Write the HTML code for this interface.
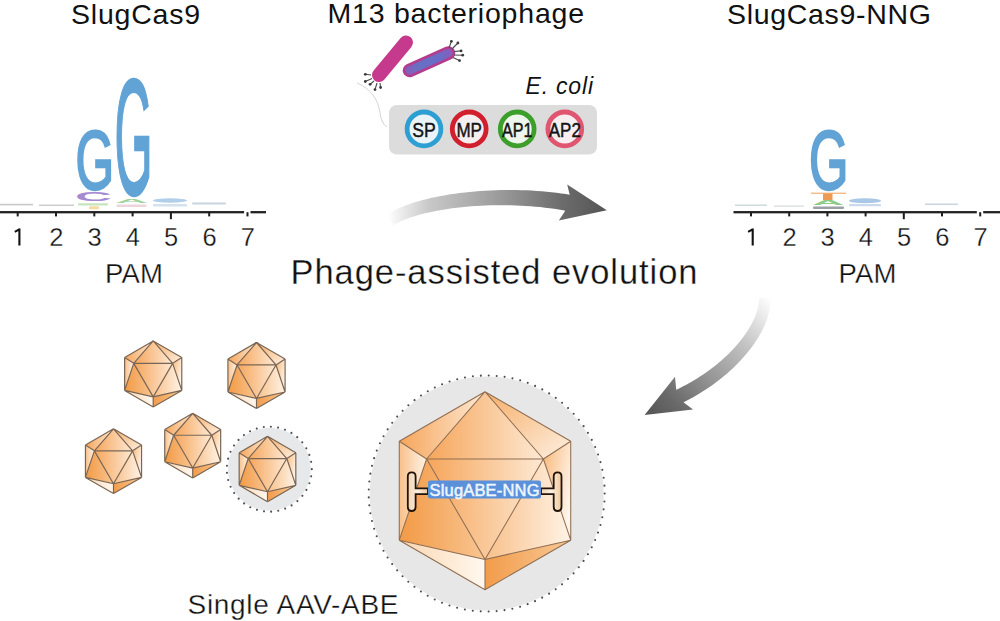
<!DOCTYPE html>
<html><head><meta charset="utf-8">
<style>
html,body{margin:0;padding:0;background:#fff;}
body{width:1000px;height:621px;overflow:hidden;}
svg{display:block;font-family:"Liberation Sans", sans-serif;}
</style></head><body>
<svg width="1000" height="621" viewBox="0 0 1000 621">
<defs>
<linearGradient id="cgA" gradientUnits="objectBoundingBox" x1="0" y1="0" x2="1" y2="0"><stop offset="0" stop-color="#f6a55a"/><stop offset="1" stop-color="#fde9d4"/></linearGradient>
<linearGradient id="cgL" gradientUnits="objectBoundingBox" x1="0" y1="0" x2="1" y2="0"><stop offset="0" stop-color="#f8c08a"/><stop offset="1" stop-color="#fff3e6"/></linearGradient>
<linearGradient id="cgTR" gradientUnits="objectBoundingBox" x1="0" y1="0" x2="1" y2="1"><stop offset="0" stop-color="#f7ae68"/><stop offset="1" stop-color="#fdf0e2"/></linearGradient>
<linearGradient id="cgR" gradientUnits="objectBoundingBox" x1="0" y1="0" x2="1" y2="0.6"><stop offset="0" stop-color="#f8b878"/><stop offset="1" stop-color="#fff5ec"/></linearGradient>
<linearGradient id="cgD" gradientUnits="objectBoundingBox" x1="0" y1="0" x2="1" y2="0"><stop offset="0" stop-color="#f39a45"/><stop offset="1" stop-color="#f8c592"/></linearGradient>
<linearGradient id="cgD2" gradientUnits="objectBoundingBox" x1="0" y1="0" x2="1" y2="0"><stop offset="0" stop-color="#f29c4a"/><stop offset="1" stop-color="#f8c896"/></linearGradient>
<linearGradient id="cgW" gradientUnits="objectBoundingBox" x1="0" y1="0" x2="1" y2="0"><stop offset="0" stop-color="#fbd6b0"/><stop offset="1" stop-color="#fff8f0"/></linearGradient>
<linearGradient id="arr1" gradientUnits="userSpaceOnUse" x1="388" y1="0" x2="605" y2="0"><stop offset="0" stop-color="#ffffff"/><stop offset="0.08" stop-color="#e6e6e6"/><stop offset="0.19" stop-color="#c8c8c8"/><stop offset="0.52" stop-color="#9a9a9a"/><stop offset="0.8" stop-color="#6c6c6c"/><stop offset="1" stop-color="#555555"/></linearGradient>
<linearGradient id="arr2" gradientUnits="userSpaceOnUse" x1="768" y1="296" x2="650" y2="412"><stop offset="0" stop-color="#ffffff"/><stop offset="0.1" stop-color="#ececec"/><stop offset="0.3" stop-color="#c4c4c4"/><stop offset="0.6" stop-color="#959595"/><stop offset="0.85" stop-color="#6a6a6a"/><stop offset="1" stop-color="#585858"/></linearGradient>
<linearGradient id="brk" gradientUnits="objectBoundingBox" x1="0" y1="0" x2="1" y2="0"><stop offset="0" stop-color="#f3d3b0"/><stop offset="0.5" stop-color="#fbefe2"/><stop offset="1" stop-color="#f0c898"/></linearGradient>
<linearGradient id="rodg" gradientUnits="userSpaceOnUse" x1="405" y1="72" x2="452" y2="51"><stop offset="0" stop-color="#8a5cb8"/><stop offset="0.3" stop-color="#6670c4"/><stop offset="0.75" stop-color="#6a6cc6"/><stop offset="1" stop-color="#8a5cb8"/></linearGradient>
</defs>

<text x="71" y="24" font-size="28.5" textLength="129" lengthAdjust="spacing" fill="#111" >SlugCas9</text>
<text x="327.5" y="23.2" font-size="28.5" textLength="256.5" lengthAdjust="spacing" fill="#111" >M13 bacteriophage</text>
<text x="727" y="23.8" font-size="28.5" textLength="204" lengthAdjust="spacing" fill="#111" >SlugCas9-NNG</text>
<text x="290.5" y="283.6" font-size="34.5" textLength="407.0" lengthAdjust="spacing" fill="#111" stroke="#fff" stroke-width="0.3">Phage-assisted evolution</text>
<text x="187.5" y="614.2" font-size="28" textLength="211.0" lengthAdjust="spacing" fill="#111" stroke="#fff" stroke-width="0.3">Single AAV-ABE</text>
<rect x="0" y="211.04999999999998" width="244.09999999999997" height="2.3" fill="#222"/>
<rect x="250.49999999999997" y="211.04999999999998" width="15.500000000000028" height="2.3" fill="#222"/>
<rect x="16.7" y="212.2" width="2" height="4.2" fill="#1e1e1e"/>
<path d="M19.4 228.6 V245.4 M19.7 229.2 L14.799999999999999 231.9" stroke="#111" stroke-width="2.1" fill="none"/>
<rect x="55.0" y="212.2" width="2" height="4.2" fill="#1e1e1e"/>
<text x="56.3" y="245.5" font-size="25.5" text-anchor="middle" fill="#111" stroke="#fff" stroke-width="0.3">2</text>
<rect x="93.3" y="212.2" width="2" height="4.2" fill="#1e1e1e"/>
<text x="94.6" y="245.5" font-size="25.5" text-anchor="middle" fill="#111" stroke="#fff" stroke-width="0.3">3</text>
<rect x="131.6" y="212.2" width="2" height="4.2" fill="#1e1e1e"/>
<text x="132.9" y="245.5" font-size="25.5" text-anchor="middle" fill="#111" stroke="#fff" stroke-width="0.3">4</text>
<rect x="169.89999999999998" y="212.2" width="2" height="7" fill="#1e1e1e"/>
<text x="171.2" y="245.5" font-size="25.5" text-anchor="middle" fill="#111" stroke="#fff" stroke-width="0.3">5</text>
<rect x="208.2" y="212.2" width="2" height="4.2" fill="#1e1e1e"/>
<text x="209.5" y="245.5" font-size="25.5" text-anchor="middle" fill="#111" stroke="#fff" stroke-width="0.3">6</text>
<rect x="246.49999999999997" y="212.2" width="2" height="4.2" fill="#1e1e1e"/>
<text x="247.79999999999998" y="245.5" font-size="25.5" text-anchor="middle" fill="#111" stroke="#fff" stroke-width="0.3">7</text>
<rect x="733.5" y="211.04999999999998" width="243.30000000000007" height="2.3" fill="#222"/>
<rect x="983.2" y="211.04999999999998" width="16.799999999999955" height="2.3" fill="#222"/>
<rect x="750.0" y="212.2" width="2" height="4.2" fill="#1e1e1e"/>
<path d="M752.7 228.6 V245.4 M753.0 229.2 L748.1 231.9" stroke="#111" stroke-width="2.1" fill="none"/>
<rect x="788.2" y="212.2" width="2" height="4.2" fill="#1e1e1e"/>
<text x="789.5" y="245.5" font-size="25.5" text-anchor="middle" fill="#111" stroke="#fff" stroke-width="0.3">2</text>
<rect x="826.4" y="212.2" width="2" height="4.2" fill="#1e1e1e"/>
<text x="827.6999999999999" y="245.5" font-size="25.5" text-anchor="middle" fill="#111" stroke="#fff" stroke-width="0.3">3</text>
<rect x="864.6" y="212.2" width="2" height="4.2" fill="#1e1e1e"/>
<text x="865.9" y="245.5" font-size="25.5" text-anchor="middle" fill="#111" stroke="#fff" stroke-width="0.3">4</text>
<rect x="902.8" y="212.2" width="2" height="7" fill="#1e1e1e"/>
<text x="904.0999999999999" y="245.5" font-size="25.5" text-anchor="middle" fill="#111" stroke="#fff" stroke-width="0.3">5</text>
<rect x="941.0" y="212.2" width="2" height="4.2" fill="#1e1e1e"/>
<text x="942.3" y="245.5" font-size="25.5" text-anchor="middle" fill="#111" stroke="#fff" stroke-width="0.3">6</text>
<rect x="979.2" y="212.2" width="2" height="4.2" fill="#1e1e1e"/>
<text x="980.5" y="245.5" font-size="25.5" text-anchor="middle" fill="#111" stroke="#fff" stroke-width="0.3">7</text>
<text x="105" y="283.4" font-size="27.5" textLength="58" lengthAdjust="spacing" fill="#111" stroke="#fff" stroke-width="0.3">PAM</text>
<text x="838.5" y="283.4" font-size="27.5" textLength="58.0" lengthAdjust="spacing" fill="#111" stroke="#fff" stroke-width="0.3">PAM</text>
<text transform="translate(75.52,188.97) scale(49.617,83.051)" font-size="1" font-weight="normal" fill="#62a3d6" stroke="#62a3d6" stroke-width="2" vector-effect="non-scaling-stroke">G</text>
<text transform="translate(114.55,194.15) scale(49.005,164.972)" font-size="1" font-weight="normal" fill="#62a3d6" stroke="#62a3d6" stroke-width="2" vector-effect="non-scaling-stroke">G</text>
<text transform="translate(74.90,200.88) scale(51.223,12.429)" font-size="1" font-weight="bold" fill="#a58ad2" >C</text>
<text transform="translate(115.36,203.20) scale(45.455,6.105)" font-size="1" font-weight="bold" fill="#9ed39a" >A</text>
<rect x="78" y="203.2" width="30" height="2.4" fill="#c8e4bc" rx="1"/>
<rect x="89" y="206.3" width="10" height="3" fill="#f5dc9e" rx="1"/>
<rect x="116.5" y="204.5" width="30" height="2.5" fill="#ecd6dc" rx="1"/>
<ellipse cx="170" cy="200.5" rx="17" ry="2.2" fill="#b2cfea"/>
<rect x="153" y="204" width="34" height="2.4" fill="#d4e2ee" rx="1"/>
<rect x="192" y="202.5" width="34" height="2" fill="#c8d5e0" rx="1"/>
<rect x="0" y="203.8" width="33" height="1.6" fill="#c8c8c8"/>
<rect x="39" y="204.5" width="35" height="1.5" fill="#cdcdcd"/>
<text transform="translate(808.97,189.06) scale(50.689,83.616)" font-size="1" font-weight="normal" fill="#62a3d6" stroke="#62a3d6" stroke-width="2" vector-effect="non-scaling-stroke">G</text>
<rect x="811" y="192.6" width="35" height="1.3" fill="#f2b47c"/>
<rect x="823" y="193.5" width="9.5" height="6.5" fill="#ee9a55"/>
<text transform="translate(811.88,205.00) scale(44.709,6.831)" font-size="1" font-weight="bold" fill="#8dcb86" >A</text>
<rect x="813" y="206.5" width="31" height="2.5" fill="#9aa0a6" rx="1"/>
<ellipse cx="865" cy="200.8" rx="16" ry="2.5" fill="#a9c7e6"/>
<rect x="849" y="204" width="32" height="2.2" fill="#c9dbec" rx="1"/>
<rect x="735" y="204.5" width="32" height="1.4" fill="#ccd8dc"/>
<rect x="774" y="205.5" width="30" height="1.3" fill="#d8dce0"/>
<rect x="925" y="203.5" width="33" height="1.6" fill="#cdd6de"/>
<path d="M357 83 C 371 89, 378 99, 380 113 Q 381.5 124 387 127" stroke="#d4d4d4" stroke-width="1" fill="none"/>
<line x1="406" y1="42.5" x2="379" y2="75" stroke="#c63a8d" stroke-width="14" stroke-linecap="round"/>
<line x1="409.5" y1="70.5" x2="448.5" y2="53" stroke="#b43c8e" stroke-width="13.5" stroke-linecap="round"/>
<line x1="409.5" y1="70.5" x2="448.5" y2="53" stroke="url(#rodg)" stroke-width="8" stroke-linecap="round"/>
<line x1="371" y1="75" x2="365.3" y2="74.3" stroke="#4a4a4a" stroke-width="1.1"/><circle cx="365.3" cy="74.3" r="1.4" fill="#3a3a3a"/>
<line x1="372" y1="78.5" x2="365.3" y2="81.5" stroke="#4a4a4a" stroke-width="1.1"/><circle cx="365.3" cy="81.5" r="1.4" fill="#3a3a3a"/>
<line x1="374" y1="81" x2="370.1" y2="84.3" stroke="#4a4a4a" stroke-width="1.1"/><circle cx="370.1" cy="84.3" r="1.4" fill="#3a3a3a"/>
<line x1="377" y1="83" x2="375" y2="89.6" stroke="#4a4a4a" stroke-width="1.1"/><circle cx="375" cy="89.6" r="1.4" fill="#3a3a3a"/>
<line x1="380" y1="83" x2="380.6" y2="87.5" stroke="#4a4a4a" stroke-width="1.1"/><circle cx="380.6" cy="87.5" r="1.4" fill="#3a3a3a"/>
<line x1="449" y1="48" x2="451.4" y2="41.3" stroke="#4a4a4a" stroke-width="1.1"/><circle cx="451.4" cy="41.3" r="1.4" fill="#3a3a3a"/>
<line x1="452" y1="49" x2="457.9" y2="43" stroke="#4a4a4a" stroke-width="1.1"/><circle cx="457.9" cy="43" r="1.4" fill="#3a3a3a"/>
<line x1="454" y1="51.5" x2="461.1" y2="50.9" stroke="#4a4a4a" stroke-width="1.1"/><circle cx="461.1" cy="50.9" r="1.4" fill="#3a3a3a"/>
<line x1="454" y1="55" x2="462.7" y2="55.2" stroke="#4a4a4a" stroke-width="1.1"/><circle cx="462.7" cy="55.2" r="1.4" fill="#3a3a3a"/>
<line x1="453" y1="57.5" x2="459.5" y2="60.6" stroke="#4a4a4a" stroke-width="1.1"/><circle cx="459.5" cy="60.6" r="1.4" fill="#3a3a3a"/>
<text x="525.5" y="93.6" font-size="23" textLength="67.5" lengthAdjust="spacing" fill="#111" font-style="italic">E. coli</text>
<rect x="389" y="105" width="208" height="49.5" rx="8" fill="#dcdcdc"/>
<circle cx="424" cy="128.9" r="16.9" fill="#eaf4f8" stroke="#2e9fd2" stroke-width="4.8"/>
<text x="412.25" y="136.5" font-size="20" textLength="23.5" lengthAdjust="spacingAndGlyphs" fill="#141414" stroke="#141414" stroke-width="0.45">SP</text>
<circle cx="469.2" cy="128.9" r="16.9" fill="#f6eeee" stroke="#d21f2d" stroke-width="4.8"/>
<text x="456.45" y="136.5" font-size="20" textLength="25.5" lengthAdjust="spacingAndGlyphs" fill="#141414" stroke="#141414" stroke-width="0.45">MP</text>
<circle cx="517.2" cy="128.9" r="16.9" fill="#eef5ec" stroke="#3c9f2c" stroke-width="4.8"/>
<text x="501.95000000000005" y="136.5" font-size="20" textLength="30.5" lengthAdjust="spacingAndGlyphs" fill="#141414" stroke="#141414" stroke-width="0.45">AP1</text>
<circle cx="564.8" cy="128.9" r="16.9" fill="#f6eef0" stroke="#e05570" stroke-width="4.8"/>
<text x="548.8" y="136.5" font-size="20" textLength="32" lengthAdjust="spacingAndGlyphs" fill="#141414" stroke="#141414" stroke-width="0.45">AP2</text>
<path d="M393.32 225.29 L395.82 223.86 L398.51 222.47 L401.39 221.12 L404.45 219.82 L407.67 218.56 L411.06 217.35 L414.61 216.20 L418.30 215.10 L422.13 214.05 L426.09 213.06 L430.17 212.13 L434.37 211.25 L438.67 210.43 L443.07 209.67 L447.56 208.97 L452.14 208.32 L456.79 207.74 L461.51 207.21 L466.29 206.75 L471.13 206.35 L476.01 206.00 L480.93 205.72 L485.88 205.50 L490.85 205.34 L495.84 205.24 L500.84 205.20 L505.84 205.23 L510.83 205.31 L515.81 205.46 L520.77 205.67 L525.70 205.94 L530.59 206.27 L535.44 206.66 L540.23 207.11 L544.97 207.63 L549.64 208.20 L554.23 208.84 L558.74 209.54 L563.17 210.29 L567.49 211.11 L570.51 194.89 L565.89 194.12 L561.19 193.42 L556.40 192.78 L551.55 192.22 L546.64 191.71 L541.67 191.28 L536.65 190.90 L531.59 190.60 L526.49 190.36 L521.36 190.18 L516.20 190.06 L511.03 190.01 L505.85 190.03 L500.67 190.11 L495.49 190.25 L490.32 190.45 L485.16 190.72 L480.03 191.05 L474.93 191.44 L469.87 191.90 L464.85 192.42 L459.89 193.01 L454.98 193.66 L450.13 194.37 L445.36 195.14 L440.66 195.98 L436.05 196.88 L431.53 197.85 L427.11 198.88 L422.79 199.97 L418.58 201.13 L414.48 202.36 L410.51 203.65 L406.67 205.01 L402.97 206.44 L399.40 207.94 L395.98 209.52 L392.72 211.17 L389.61 212.90 L386.68 214.71 Z" fill="url(#arr1)"/>
<path d="M567.2 184.4 L606.8 210.3 L558.8 220.4 L564.8 211.5 L565 203 L569.6 194.5 Z" fill="url(#arr1)"/>
<path d="M759.25 297.99 L759.16 300.11 L758.95 302.26 L758.62 304.46 L758.19 306.70 L757.63 308.99 L756.97 311.30 L756.19 313.65 L755.30 316.03 L754.29 318.44 L753.17 320.87 L751.95 323.33 L750.61 325.80 L749.17 328.28 L747.62 330.78 L745.97 333.29 L744.22 335.79 L742.36 338.31 L740.40 340.82 L738.35 343.32 L736.20 345.82 L733.96 348.31 L731.62 350.79 L729.19 353.25 L726.67 355.69 L724.07 358.11 L721.38 360.50 L718.61 362.87 L715.76 365.21 L712.82 367.51 L709.81 369.78 L706.73 372.02 L703.57 374.21 L700.34 376.36 L697.03 378.46 L693.66 380.51 L690.23 382.52 L686.73 384.47 L683.17 386.36 L679.54 388.19 L675.86 389.97 L682.14 403.03 L686.05 401.07 L689.89 399.04 L693.67 396.94 L697.37 394.79 L701.01 392.58 L704.58 390.31 L708.07 388.00 L711.49 385.63 L714.83 383.22 L718.09 380.76 L721.28 378.26 L724.38 375.73 L727.40 373.15 L730.33 370.54 L733.18 367.90 L735.93 365.23 L738.60 362.54 L741.18 359.81 L743.66 357.07 L746.05 354.30 L748.34 351.52 L750.53 348.72 L752.63 345.91 L754.62 343.09 L756.50 340.25 L758.28 337.41 L759.95 334.57 L761.51 331.72 L762.96 328.87 L764.29 326.02 L765.51 323.17 L766.61 320.33 L767.58 317.49 L768.44 314.66 L769.16 311.84 L769.75 309.04 L770.21 306.25 L770.53 303.48 L770.71 300.73 L770.75 298.01 Z" fill="url(#arr2)"/>
<path d="M675 376.8 L676.2 389.2 L680 396 L684.1 402.7 L693.1 409.4 L644.6 415 Z" fill="url(#arr2)"/>
<polygon points="153.20,340.90 124.62,357.40 133.73,363.34" fill="url(#cgA)"/>
<polygon points="153.20,340.90 133.73,363.34 172.67,363.34" fill="url(#cgA)"/>
<polygon points="153.20,340.90 172.67,363.34 181.78,357.40" fill="url(#cgTR)"/>
<polygon points="124.62,357.40 133.73,363.34 124.62,390.40" fill="url(#cgL)"/>
<polygon points="133.73,363.34 124.62,390.40 153.20,396.83" fill="url(#cgD)"/>
<polygon points="133.73,363.34 172.67,363.34 153.20,396.83" fill="url(#cgA)"/>
<polygon points="172.67,363.34 153.20,396.83 181.78,390.40" fill="url(#cgL)"/>
<polygon points="181.78,357.40 172.67,363.34 181.78,390.40" fill="url(#cgR)"/>
<polygon points="124.62,390.40 153.20,396.83 153.20,406.90" fill="url(#cgW)"/>
<polygon points="181.78,390.40 153.20,396.83 153.20,406.90" fill="url(#cgD2)"/>
<path d="M153.20 340.90L124.62 357.40 M124.62 357.40L124.62 390.40 M124.62 390.40L153.20 406.90 M153.20 406.90L181.78 390.40 M181.78 390.40L181.78 357.40 M181.78 357.40L153.20 340.90 M153.20 340.90L133.73 363.34 M153.20 340.90L172.67 363.34 M124.62 357.40L133.73 363.34 M181.78 357.40L172.67 363.34 M133.73 363.34L172.67 363.34 M133.73 363.34L153.20 396.83 M172.67 363.34L153.20 396.83 M133.73 363.34L124.62 390.40 M172.67 363.34L181.78 390.40 M124.62 390.40L153.20 396.83 M181.78 390.40L153.20 396.83 M153.20 396.83L153.20 406.90" stroke="#7a6654" stroke-width="1.2" fill="none" stroke-linejoin="round"/>
<polygon points="256.50,342.50 227.92,359.00 237.03,364.94" fill="url(#cgA)"/>
<polygon points="256.50,342.50 237.03,364.94 275.97,364.94" fill="url(#cgA)"/>
<polygon points="256.50,342.50 275.97,364.94 285.08,359.00" fill="url(#cgTR)"/>
<polygon points="227.92,359.00 237.03,364.94 227.92,392.00" fill="url(#cgL)"/>
<polygon points="237.03,364.94 227.92,392.00 256.50,398.44" fill="url(#cgD)"/>
<polygon points="237.03,364.94 275.97,364.94 256.50,398.44" fill="url(#cgA)"/>
<polygon points="275.97,364.94 256.50,398.44 285.08,392.00" fill="url(#cgL)"/>
<polygon points="285.08,359.00 275.97,364.94 285.08,392.00" fill="url(#cgR)"/>
<polygon points="227.92,392.00 256.50,398.44 256.50,408.50" fill="url(#cgW)"/>
<polygon points="285.08,392.00 256.50,398.44 256.50,408.50" fill="url(#cgD2)"/>
<path d="M256.50 342.50L227.92 359.00 M227.92 359.00L227.92 392.00 M227.92 392.00L256.50 408.50 M256.50 408.50L285.08 392.00 M285.08 392.00L285.08 359.00 M285.08 359.00L256.50 342.50 M256.50 342.50L237.03 364.94 M256.50 342.50L275.97 364.94 M227.92 359.00L237.03 364.94 M285.08 359.00L275.97 364.94 M237.03 364.94L275.97 364.94 M237.03 364.94L256.50 398.44 M275.97 364.94L256.50 398.44 M237.03 364.94L227.92 392.00 M275.97 364.94L285.08 392.00 M227.92 392.00L256.50 398.44 M285.08 392.00L256.50 398.44 M256.50 398.44L256.50 408.50" stroke="#7a6654" stroke-width="1.2" fill="none" stroke-linejoin="round"/>
<polygon points="113.50,428.80 85.44,445.00 94.38,450.83" fill="url(#cgA)"/>
<polygon points="113.50,428.80 94.38,450.83 132.62,450.83" fill="url(#cgA)"/>
<polygon points="113.50,428.80 132.62,450.83 141.56,445.00" fill="url(#cgTR)"/>
<polygon points="85.44,445.00 94.38,450.83 85.44,477.40" fill="url(#cgL)"/>
<polygon points="94.38,450.83 85.44,477.40 113.50,483.72" fill="url(#cgD)"/>
<polygon points="94.38,450.83 132.62,450.83 113.50,483.72" fill="url(#cgA)"/>
<polygon points="132.62,450.83 113.50,483.72 141.56,477.40" fill="url(#cgL)"/>
<polygon points="141.56,445.00 132.62,450.83 141.56,477.40" fill="url(#cgR)"/>
<polygon points="85.44,477.40 113.50,483.72 113.50,493.60" fill="url(#cgW)"/>
<polygon points="141.56,477.40 113.50,483.72 113.50,493.60" fill="url(#cgD2)"/>
<path d="M113.50 428.80L85.44 445.00 M85.44 445.00L85.44 477.40 M85.44 477.40L113.50 493.60 M113.50 493.60L141.56 477.40 M141.56 477.40L141.56 445.00 M141.56 445.00L113.50 428.80 M113.50 428.80L94.38 450.83 M113.50 428.80L132.62 450.83 M85.44 445.00L94.38 450.83 M141.56 445.00L132.62 450.83 M94.38 450.83L132.62 450.83 M94.38 450.83L113.50 483.72 M132.62 450.83L113.50 483.72 M94.38 450.83L85.44 477.40 M132.62 450.83L141.56 477.40 M85.44 477.40L113.50 483.72 M141.56 477.40L113.50 483.72 M113.50 483.72L113.50 493.60" stroke="#7a6654" stroke-width="1.2" fill="none" stroke-linejoin="round"/>
<polygon points="192.70,413.30 164.73,429.45 173.64,435.26" fill="url(#cgA)"/>
<polygon points="192.70,413.30 173.64,435.26 211.76,435.26" fill="url(#cgA)"/>
<polygon points="192.70,413.30 211.76,435.26 220.67,429.45" fill="url(#cgTR)"/>
<polygon points="164.73,429.45 173.64,435.26 164.73,461.75" fill="url(#cgL)"/>
<polygon points="173.64,435.26 164.73,461.75 192.70,468.05" fill="url(#cgD)"/>
<polygon points="173.64,435.26 211.76,435.26 192.70,468.05" fill="url(#cgA)"/>
<polygon points="211.76,435.26 192.70,468.05 220.67,461.75" fill="url(#cgL)"/>
<polygon points="220.67,429.45 211.76,435.26 220.67,461.75" fill="url(#cgR)"/>
<polygon points="164.73,461.75 192.70,468.05 192.70,477.90" fill="url(#cgW)"/>
<polygon points="220.67,461.75 192.70,468.05 192.70,477.90" fill="url(#cgD2)"/>
<path d="M192.70 413.30L164.73 429.45 M164.73 429.45L164.73 461.75 M164.73 461.75L192.70 477.90 M192.70 477.90L220.67 461.75 M220.67 461.75L220.67 429.45 M220.67 429.45L192.70 413.30 M192.70 413.30L173.64 435.26 M192.70 413.30L211.76 435.26 M164.73 429.45L173.64 435.26 M220.67 429.45L211.76 435.26 M173.64 435.26L211.76 435.26 M173.64 435.26L192.70 468.05 M211.76 435.26L192.70 468.05 M173.64 435.26L164.73 461.75 M211.76 435.26L220.67 461.75 M164.73 461.75L192.70 468.05 M220.67 461.75L192.70 468.05 M192.70 468.05L192.70 477.90" stroke="#7a6654" stroke-width="1.2" fill="none" stroke-linejoin="round"/>
<circle cx="269.3" cy="469.2" r="41.5" fill="#e7e8ea"/>
<circle cx="269.3" cy="469.2" r="42.5" fill="none" stroke="#505050" stroke-width="2.1" stroke-dasharray="0 7.2" stroke-linecap="round"/>
<polygon points="267.50,436.30 239.18,452.65 248.21,458.54" fill="url(#cgA)"/>
<polygon points="267.50,436.30 248.21,458.54 286.79,458.54" fill="url(#cgA)"/>
<polygon points="267.50,436.30 286.79,458.54 295.82,452.65" fill="url(#cgTR)"/>
<polygon points="239.18,452.65 248.21,458.54 239.18,485.35" fill="url(#cgL)"/>
<polygon points="248.21,458.54 239.18,485.35 267.50,491.73" fill="url(#cgD)"/>
<polygon points="248.21,458.54 286.79,458.54 267.50,491.73" fill="url(#cgA)"/>
<polygon points="286.79,458.54 267.50,491.73 295.82,485.35" fill="url(#cgL)"/>
<polygon points="295.82,452.65 286.79,458.54 295.82,485.35" fill="url(#cgR)"/>
<polygon points="239.18,485.35 267.50,491.73 267.50,501.70" fill="url(#cgW)"/>
<polygon points="295.82,485.35 267.50,491.73 267.50,501.70" fill="url(#cgD2)"/>
<path d="M267.50 436.30L239.18 452.65 M239.18 452.65L239.18 485.35 M239.18 485.35L267.50 501.70 M267.50 501.70L295.82 485.35 M295.82 485.35L295.82 452.65 M295.82 452.65L267.50 436.30 M267.50 436.30L248.21 458.54 M267.50 436.30L286.79 458.54 M239.18 452.65L248.21 458.54 M295.82 452.65L286.79 458.54 M248.21 458.54L286.79 458.54 M248.21 458.54L267.50 491.73 M286.79 458.54L267.50 491.73 M248.21 458.54L239.18 485.35 M286.79 458.54L295.82 485.35 M239.18 485.35L267.50 491.73 M295.82 485.35L267.50 491.73 M267.50 491.73L267.50 501.70" stroke="#7a6654" stroke-width="1.2" fill="none" stroke-linejoin="round"/>
<circle cx="486.7" cy="493.5" r="117" fill="#e7e7e8"/>
<circle cx="486.7" cy="493.5" r="118" fill="none" stroke="#4e4e4e" stroke-width="2.1" stroke-dasharray="0 7.97" stroke-linecap="round"/>
<polygon points="485.00,391.70 399.27,441.20 426.59,459.02" fill="url(#cgA)"/>
<polygon points="485.00,391.70 426.59,459.02 543.41,459.02" fill="url(#cgA)"/>
<polygon points="485.00,391.70 543.41,459.02 570.73,441.20" fill="url(#cgTR)"/>
<polygon points="399.27,441.20 426.59,459.02 399.27,540.20" fill="url(#cgL)"/>
<polygon points="426.59,459.02 399.27,540.20 485.00,559.50" fill="url(#cgD)"/>
<polygon points="426.59,459.02 543.41,459.02 485.00,559.50" fill="url(#cgA)"/>
<polygon points="543.41,459.02 485.00,559.50 570.73,540.20" fill="url(#cgL)"/>
<polygon points="570.73,441.20 543.41,459.02 570.73,540.20" fill="url(#cgR)"/>
<polygon points="399.27,540.20 485.00,559.50 485.00,589.70" fill="url(#cgW)"/>
<polygon points="570.73,540.20 485.00,559.50 485.00,589.70" fill="url(#cgD2)"/>
<path d="M485.00 391.70L399.27 441.20 M399.27 441.20L399.27 540.20 M399.27 540.20L485.00 589.70 M485.00 589.70L570.73 540.20 M570.73 540.20L570.73 441.20 M570.73 441.20L485.00 391.70 M485.00 391.70L426.59 459.02 M485.00 391.70L543.41 459.02 M399.27 441.20L426.59 459.02 M570.73 441.20L543.41 459.02 M426.59 459.02L543.41 459.02 M426.59 459.02L485.00 559.50 M543.41 459.02L485.00 559.50 M426.59 459.02L399.27 540.20 M543.41 459.02L570.73 540.20 M399.27 540.20L485.00 559.50 M570.73 540.20L485.00 559.50 M485.00 559.50L485.00 589.70" stroke="#8f6e52" stroke-width="1.05" fill="none" stroke-linejoin="round"/>
<path d="M411.7 472.3 Q407.8 472.3 407.8 476.5 L407.8 506.8 Q407.8 511 411.7 511 Q415.6 511 415.6 506.8 L415.6 494.2 L428 494.2 L428 488.4 L415.6 488.4 L415.6 476.5 Q415.6 472.3 411.7 472.3 Z" fill="url(#brk)" stroke="#22140a" stroke-width="1.8"/>
<path d="M557.6 472.3 Q561.5 472.3 561.5 476.5 L561.5 506.8 Q561.5 511 557.6 511 Q553.7 511 553.7 506.8 L553.7 494.2 L541 494.2 L541 488.4 L553.7 488.4 L553.7 476.5 Q553.7 472.3 557.6 472.3 Z" fill="url(#brk)" stroke="#22140a" stroke-width="1.8"/>
<rect x="428" y="480.5" width="113" height="18" rx="2" fill="#5b91da"/>
<text x="429.5" y="495.8" font-size="16.5" textLength="110.0" lengthAdjust="spacing" fill="#eef6ff" stroke="#eef6ff" stroke-width="0.5">SlugABE-NNG</text>
</svg></body></html>
